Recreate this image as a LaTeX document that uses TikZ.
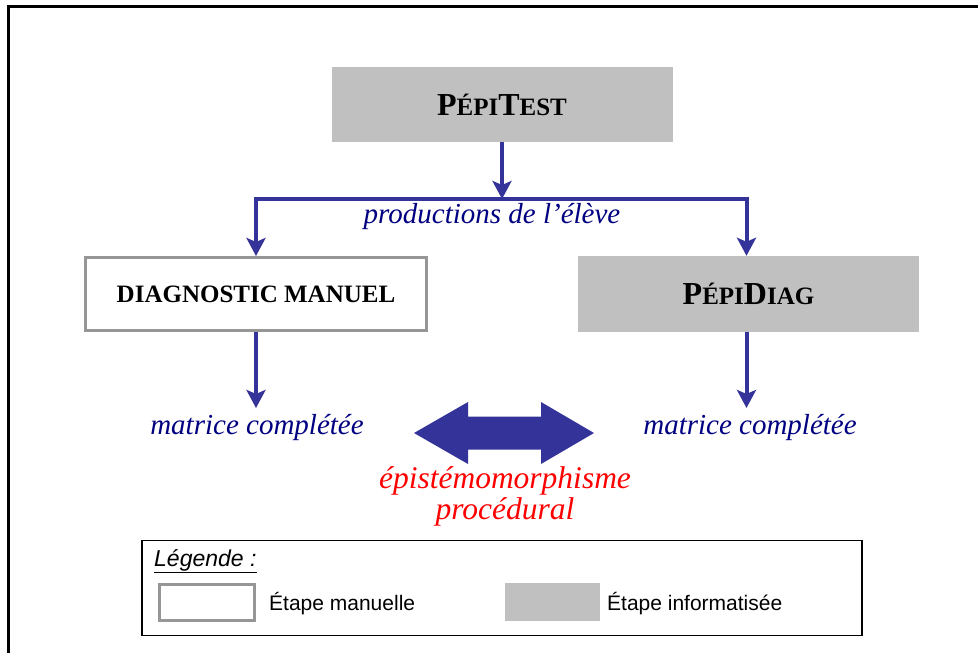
\documentclass[tikz,border=0pt]{standalone}
\usepackage{fontspec}
\setmainfont{Liberation Serif}
\setsansfont{Liberation Sans}
\usepackage{xcolor}
\usetikzlibrary{arrows.meta,positioning}
\definecolor{flowblue}{HTML}{333399}
\definecolor{labelblue}{HTML}{000080}
\definecolor{stepgray}{HTML}{C0C0C0}
\definecolor{framegray}{HTML}{969696}
\newcommand{\smallcap}[1]{{\fontsize{25}{25}\selectfont #1}}
\tikzset{
  autostep/.style={
    rectangle, fill=stepgray, draw=none,
    minimum width=341pt, minimum height=75pt,
    font=\fontsize{32}{32}\selectfont\bfseries, align=center,
    inner sep=0pt
  },
  manualstep/.style={
    rectangle, draw=framegray, fill=white, line width=3pt,
    minimum width=341pt, minimum height=73pt,
    font=\fontsize{25}{25}\selectfont\bfseries, align=center,
    inner sep=0pt
  },
  flowarrow/.style={
    line width=4pt, color=flowblue,
    -{Stealth[length=18pt, width=19pt, inset=4pt]}
  },
  flowline/.style={line width=4pt, color=flowblue},
  flowlabel/.style={
    font=\fontsize{29}{29}\selectfont\itshape, color=labelblue, inner sep=0pt
  },
  redlabel/.style={
    font=\fontsize{31.5}{31}\selectfont\itshape, color=red, align=center,
    inner sep=0pt
  },
  legendtext/.style={
    font=\sffamily\fontsize{21}{21}\selectfont, inner sep=0pt
  },
}

\begin{document}
\begin{tikzpicture}[x=1pt, y=-1pt]
  \useasboundingbox (0,0) rectangle (978,653);
  % outer frame (only top and left edges are visible)
  \draw[line width=3pt] (8,653) -- (8,6) -- (978,6);

  % steps
  \node[autostep] (pepitest) at (502,104.5) {P\smallcap{ÉPI}T\smallcap{EST}};
  \node[manualstep] (manuel) at (256,294) {DIAGNOSTIC MANUEL};
  \node[autostep, minimum height=76pt] (pepidiag) at (748.5,294)
    {P\smallcap{ÉPI}D\smallcap{IAG}};

  % fork below PépiTest
  \coordinate (fork) at (502,199);
  \coordinate (forkL) at (256,199);
  \coordinate (forkR) at (746.5,199);
  \draw[flowarrow] (pepitest.south) -- (fork);
  \draw[flowline, line cap=rect] (forkL) -- (forkR);
  \draw[flowarrow] (forkL) -- (manuel.north);
  \draw[flowarrow] (forkR) -- (forkR |- pepidiag.north);
  \node[flowlabel] (productions) at (492,217) {productions de l'élève};

  % results
  \coordinate (resL) at (256,408);
  \coordinate (resR) at (746.5,408);
  \draw[flowarrow] (manuel.south) -- (resL);
  \draw[flowarrow] (resR |- pepidiag.south) -- (resR);
  \node[flowlabel] (matriceL) at (257,428) {matrice complétée};
  \node[flowlabel] (matriceR) at (750,428) {matrice complétée};

  % double arrow between the two matrices
  \fill[flowblue] (414,433) -- (468,402) -- (468,416.5) -- (541,416.5)
    -- (541,402) -- (594,433) -- (541,464) -- (541,449.5) -- (468,449.5)
    -- (468,464) -- cycle;
  \node[redlabel] (epistemo) at (505,496)
    {épistémomorphisme\\procédural};

  % legend
  \node[draw, line width=1.2pt, minimum width=720pt, minimum height=95pt,
    inner sep=0pt] (legend) at (502,588) {};
  \node[legendtext, font=\sffamily\fontsize{23}{23}\selectfont,
    anchor=base west] (legendtitle) at (154,566)
    {\underline{\textit{Légende :}}};
  \node[manualstep, minimum width=95pt, minimum height=36pt] (keymanual)
    at (207,602.5) {};
  \node[legendtext, anchor=west] (keymanualtext) at (269,604) {Étape manuelle};
  \node[autostep, minimum width=95pt, minimum height=38pt] (keyauto)
    at (552.5,602) {};
  \node[legendtext, anchor=west] (keyautotext) at (607,604) {Étape informatisée};
\end{tikzpicture}
\end{document}
